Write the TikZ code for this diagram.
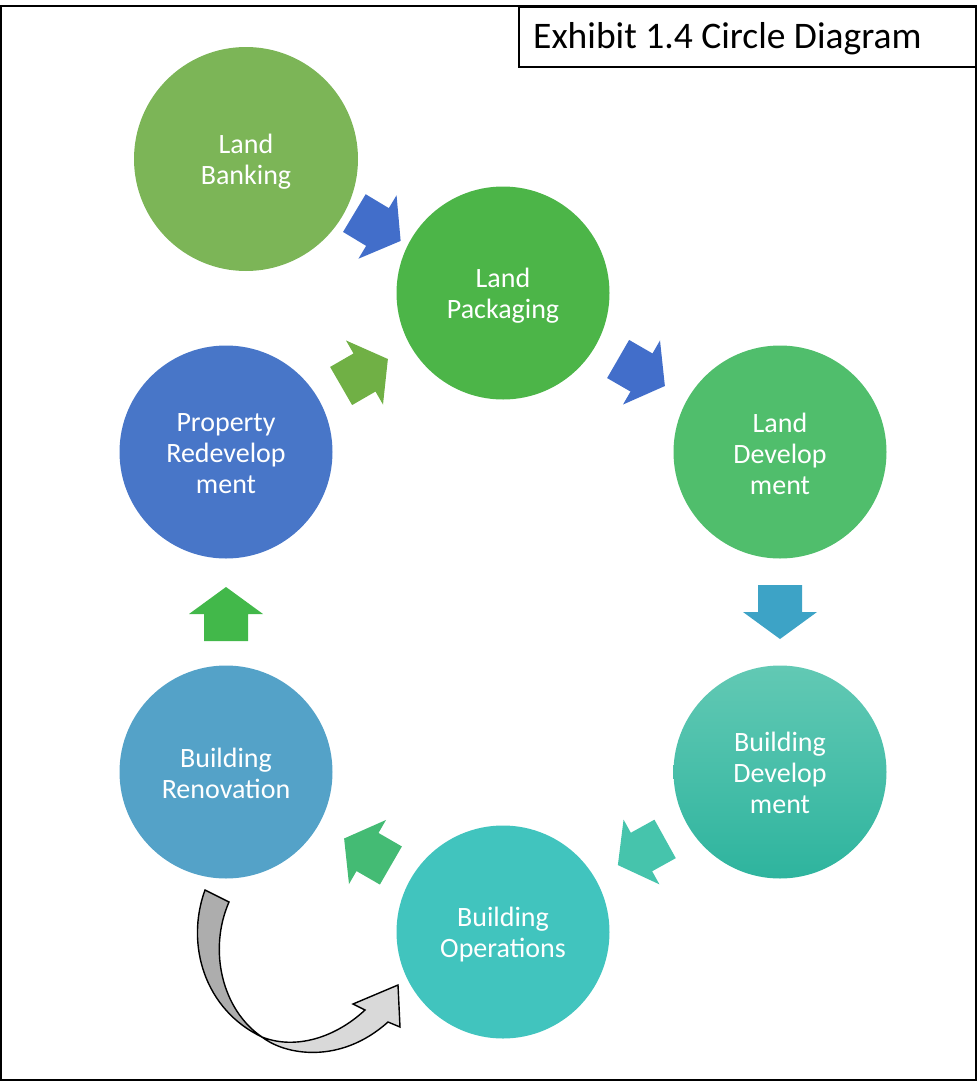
\documentclass[tikz,border=0pt]{standalone}
\usepackage{fontspec}
\setmainfont{Carlito}
\usetikzlibrary{calc}
\definecolor{cLB}{RGB}{124,181,87}
\definecolor{cLP}{RGB}{76,181,72}
\definecolor{cLD}{RGB}{80,190,108}
\definecolor{cBDt}{RGB}{98,201,180}
\definecolor{cBDb}{RGB}{46,180,158}
\definecolor{cBO}{RGB}{65,196,190}
\definecolor{cBR}{RGB}{84,162,200}
\definecolor{cPR}{RGB}{72,118,200}
\definecolor{aBlue}{RGB}{66,110,202}
\definecolor{aCyan}{RGB}{61,163,198}
\definecolor{aTeal}{RGB}{70,196,172}
\definecolor{aGreen}{RGB}{68,187,116}
\definecolor{aGreenB}{RGB}{66,184,74}
\definecolor{aOlive}{RGB}{112,176,69}
\definecolor{gDark}{RGB}{173,173,173}
\definecolor{gLight}{RGB}{217,217,217}
\begin{document}
\begin{tikzpicture}[x=1pt,y=-1pt,
  stage/.style={circle, minimum size=213pt, inner sep=0pt},
  stext/.style={text=white, align=center, inner sep=0pt, font=\fontsize{28}{31}\selectfont},
  blockarrow/.pic={\path[pic actions] (-27,-22) -- (0,-22) -- (0,-37) -- (27,0) -- (0,37) -- (0,22) -- (-27,22) -- cycle;},
  frame/.style={line width=2pt, draw=black},
  ribbon/.style={draw=black, line width=1.4pt, line join=miter}]
\useasboundingbox (0,0) rectangle (977,1082);
\draw[frame] (1,6) rectangle (976,1080);
\node[frame, draw, minimum width=458pt, minimum height=60pt, inner sep=0pt, anchor=north west] (titlebox) at (518,6) {};
\node[anchor=base west, inner sep=0pt, font=\fontsize{37.5}{42}\selectfont] (title) at (533,48) {Exhibit 1.4 Circle Diagram};

\node[stage, fill=cLB, minimum size=224pt] (lb) at (246,159) {};
\node[stage, fill=cLP] (lp) at (503,293) {};
\node[stage, fill=cLD] (ld) at (780,452) {};
\node[stage, top color=cBDt, bottom color=cBDb] (bd) at (780,772) {};
\node[stage, fill=cBO] (bo) at (503,932) {};
\node[stage, fill=cBR] (br) at (226,772) {};
\node[stage, fill=cPR] (pr) at (226,452) {};

\node[stext] (lb-t) at ($(lb)+(0,3)$) {Land\\Banking};
\node[stext] (lp-t) at ($(lp)+(0,2.5)$) {Land\\Packaging};
\node[stext] (ld-t) at ($(ld)+(0,2)$) {Land\\Develop\\ment};
\node[stext] (bd-t) at ($(bd)+(0,1)$) {Building\\Develop\\ment};
\node[stext] (bo-t) at ($(bo)+(0,2.5)$) {Building\\Operations};
\node[stext] (br-t) at ($(br)+(0,1)$) {Building\\Renovation};
\node[stext] (pr-t) at ($(pr)+(0,2)$) {Property\\Redevelop\\ment};

\pic[rotate=-31, fill=aBlue] (a1) at ($(lb)!0.5!(lp)+(3,1)$) {blockarrow};
\pic[rotate=-30, fill=aBlue] (a2) at ($(lp)!0.5!(ld)$) {blockarrow};
\pic[rotate=-90, fill=aCyan] (a3) at ($(ld)!0.5!(bd)$) {blockarrow};
\pic[rotate=209, fill=aTeal] (a4) at ($(bd)!0.5!(bo)$) {blockarrow};
\pic[rotate=150, fill=aGreen] (a5) at ($(bo)!0.5!(br)+(3,0)$) {blockarrow};
\pic[rotate=90, fill=aGreenB] (a6) at ($(br)!0.5!(pr)+(0,2)$) {blockarrow};
\pic[rotate=30, fill=aOlive] (a7) at ($(pr)!0.5!(lp)$) {blockarrow};

% curved gray arrow
\filldraw[ribbon, fill=gDark] (205,890) .. controls (185,945) and (205,1010) .. (262,1037)
  .. controls (222,1010) and (208,950) .. (229,902) -- cycle;
\filldraw[ribbon, fill=gLight] (262,1037) .. controls (285,1055) and (340,1065) .. (388,1022)
  -- (400,1027) -- (398,985) -- (353,1004) -- (365,1010)
  .. controls (335,1038) and (295,1050) .. (262,1037) -- cycle;
\end{tikzpicture}
\end{document}
